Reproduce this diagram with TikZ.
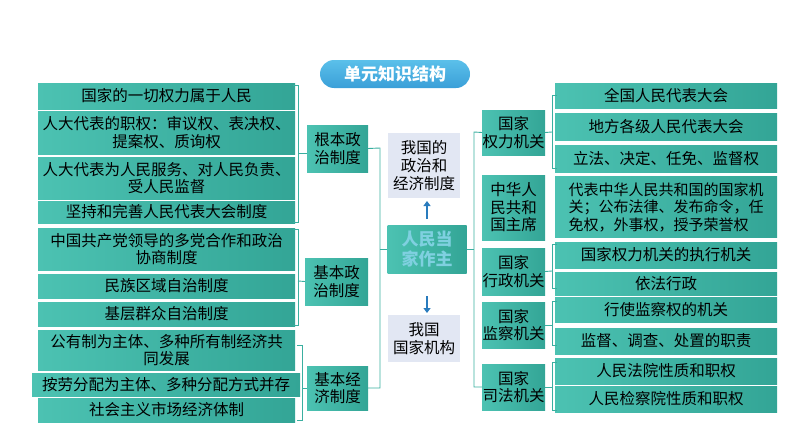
\documentclass[tikz,border=0pt]{standalone}
\usepackage{fontspec}
\newfontfamily\cjk{Noto Sans CJK SC}
\usetikzlibrary{arrows.meta}
\definecolor{tealA}{HTML}{4CC2B2}
\definecolor{tealB}{HTML}{33A596}
\definecolor{brk}{HTML}{3AAFA0}
\definecolor{lav}{HTML}{E2E7F3}
\definecolor{pillA}{HTML}{5BC0EA}
\definecolor{pillB}{HTML}{3A9FD8}
\definecolor{ctext}{HTML}{7FD0E0}
\tikzset{
 tbox/.style={inner sep=0pt,outer sep=0pt,left color=tealA,right color=tealB,text=black,align=center,font=\cjk\fontsize{15.5}{17.5}\selectfont},
 lbox/.style={inner sep=0pt,outer sep=0pt,fill=lav,text=black,align=center,font=\cjk\fontsize{15.5}{18}\selectfont},
 br/.style={draw=brk,line width=0.9pt},
 arr/.style={draw=brk!70!blue,line width=2pt,-{Triangle[length=5pt,width=7pt]}}
}
\newcommand{\bx}[7][tbox]{\node[#1,minimum width={#4-#2},minimum height={#5-#3}] (#6) at ({(#2+#4)/2},{(#3+#5)/2}) {#7};}
\begin{document}
\begin{tikzpicture}[x=1pt,y=-1pt]
\useasboundingbox (0,0) rectangle (794,447);
\node[inner sep=0pt,minimum width=150,minimum height=28,rounded corners=14pt,top color=pillA,bottom color=pillB,text=white,font=\cjk\bfseries\fontsize{17}{19}\selectfont] (title) at (395,74) {单元知识结构};
% left leaves
\bx{38}{83}{295}{109}{l1}{国家的一切权力属于人民}
\bx{38}{111}{295}{154}{l2}{人大代表的职权：审议权、表决权、\\提案权、质询权}
\bx{38}{157}{295}{199}{l3}{人大代表为人民服务、对人民负责、\\受人民监督}
\bx{38}{201}{295}{223}{l4}{坚持和完善人民代表大会制度}
\bx{38}{228}{295}{270}{l5}{中国共产党领导的多党合作和政治\\协商制度}
\bx{38}{274}{295}{298}{l6}{民族区域自治制度}
\bx{38}{302}{295}{326}{l7}{基层群众自治制度}
\bx{38}{330}{295}{370}{l8}{公有制为主体、多种所有制经济共\\同发展}
\bx{32}{373}{300}{396}{l9}{按劳分配为主体、多种分配方式并存}
\bx{38}{398}{295}{422}{l10}{社会主义市场经济体制}
% left mids
\bx{307}{125}{368}{172}{m1}{根本政\\治制度}
\bx{305}{258}{368}{305}{m2}{基本政\\治制度}
\bx{307}{366}{368}{410}{m3}{基本经\\济制度}
% center
\node[inner sep=0pt,minimum width=79,minimum height=48,left color=tealA,right color=tealB,text=ctext,font=\cjk\bfseries\fontsize{17}{20}\selectfont,align=center] (c) at (427,249) {人民当\\家作主};
\bx[lbox]{388}{133}{460}{198}{up}{我国的\\政治和\\经济制度}
\bx[lbox]{388}{315}{460}{362}{dn}{我国\\国家机构}
\coordinate (a1) at (427,219); \coordinate (a2) at (427,201);
\coordinate (b1) at (427,296); \coordinate (b2) at (427,313);
\draw[arr] (a1) -- (a2);
\draw[arr] (b1) -- (b2);
% left brackets
\draw[br] (293,85) -- (298,85) -- (298,222) -- (293,222);
\draw[br] (298,153) -- (m1.west|-0,153);
\draw[br] (293,229) -- (298,229) -- (298,325) -- (293,325);
\draw[br] (298,281) -- (m2.west);
\draw[br] (297,345) -- (302,345) -- (302,420) -- (297,420);
\draw[br] (302,388) -- (m3.west);
\draw[br] (m1.east) -- (380,148) -- (380,388) -- (m3.east|-0,388);
\draw[br] (380,249) -- (c.west);
% right mids
\bx{482}{110}{545}{155}{r1}{国家\\权力机关}
\bx{482}{175}{545}{240}{r2}{中华人\\民共和\\国主席}
\bx{482}{248}{545}{295}{r3}{国家\\行政机关}
\bx{482}{302}{545}{348}{r4}{国家\\监察机关}
\bx{482}{364}{545}{410}{r5}{国家\\司法机关}
\draw[br] (r1.west) -- (474,132) -- (474,387) -- (r5.west);
\draw[br] (474,249) -- (c.east);
% right leaves
\bx{555}{83}{777}{108}{q1}{全国人民代表大会}
\bx{555}{113}{777}{140}{q2}{地方各级人民代表大会}
\bx{555}{145}{777}{172}{q3}{立法、决定、任免、监督权}
\node[tbox,minimum width=222,minimum height=61,align=left,font=\cjk\fontsize{15}{17.5}\selectfont] (q4) at (666,207) {代表中华人民共和国的国家机\\关；公布法律、发布命令，任\\免权，外事权，授予荣誉权};
\bx{555}{242}{777}{268}{q5}{国家权力机关的执行机关}
\bx{555}{272}{777}{295}{q6}{依法行政}
\bx{555}{297}{777}{322}{q7}{行使监察权的机关}
\bx{555}{328}{777}{354}{q8}{监督、调查、处置的职责}
\bx{555}{358}{777}{384}{q9}{人民法院性质和职权}
\bx{555}{386}{777}{412}{q10}{人民检察院性质和职权}
\draw[br] (557,95) -- (552,95) -- (552,168) -- (557,168);
\draw[br] (552,132) -- (r1.east);
\draw[br] (557,244) -- (552,244) -- (552,288) -- (557,288);
\draw[br] (552,271) -- (r3.east);
\draw[br] (557,301) -- (552,301) -- (552,345) -- (557,345);
\draw[br] (552,325) -- (r4.east);
\draw[br] (557,362) -- (552,362) -- (552,410) -- (557,410);
\draw[br] (552,387) -- (r5.east);
\end{tikzpicture}
\end{document}
